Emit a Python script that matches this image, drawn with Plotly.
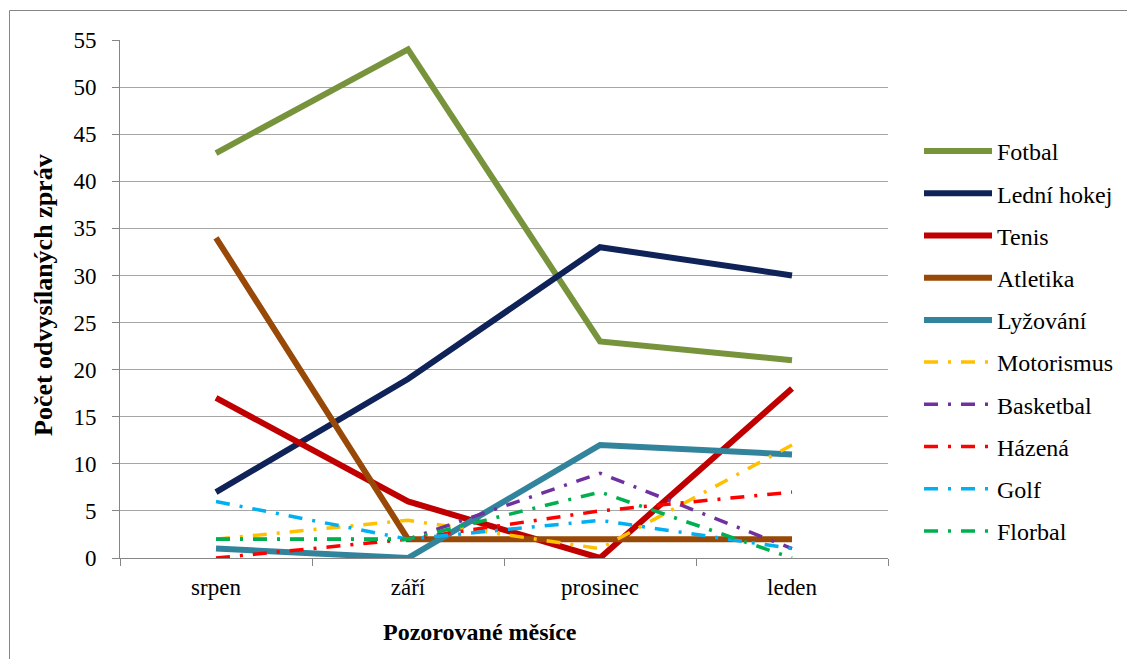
import plotly.graph_objects as go

months = ["srpen", "září", "prosinec", "leden"]
fotbal = [43, 54, 23, 21]
ledni_hokej = [7, 19, 33, 30]
tenis = [17, 6, 0, 18]
atletika = [34, 2, 2, 2]
lyzovani = [1, 0, 12, 11]
motorismus = [2, 4, 1, 12]
basketbal = [2, 2, 9, 1]
hazena = [0, 2, 5, 7]
golf = [6, 2, 4, 1]
florbal = [2, 2, 7, 0]

series = [
    ("Fotbal", fotbal, "#77933C", "solid"),
    ("Lední hokej", ledni_hokej, "#0F2358", "solid"),
    ("Tenis", tenis, "#C00000", "solid"),
    ("Atletika", atletika, "#984807", "solid"),
    ("Lyžování", lyzovani, "#31849B", "solid"),
    ("Motorismus", motorismus, "#FFC000", "dash"),
    ("Basketbal", basketbal, "#7030A0", "dash"),
    ("Házená", hazena, "#FF0000", "dash"),
    ("Golf", golf, "#00B0F0", "dash"),
    ("Florbal", florbal, "#00B050", "dash"),
]

FONT = "Liberation Serif, Times New Roman, serif"

fig = go.Figure()
for i, (name, vals, color, style) in enumerate(series):
    if style == "solid":
        line = dict(color=color, width=6)
    else:
        line = dict(color=color, width=3.5, dash="14px,10px,3px,10px")
    fig.add_trace(go.Scatter(x=months, y=vals, name=name, mode="lines",
                             line=line, legendgroup=str(i)))

W, H = 1127, 659
L, R, T, B = 120, 239, 40, 101
pw, ph = W - L - R, H - T - B

fig.update_layout(
    width=W, height=H,
    margin=dict(l=L, r=R, t=T, b=B, autoexpand=False),
    paper_bgcolor="white", plot_bgcolor="white",
    font=dict(family=FONT, size=23, color="black"),
    showlegend=True,
    legend=dict(x=(919 - L) / pw, y=1 - (129 - T) / ph, xanchor="left", yanchor="top",
                font=dict(family=FONT, size=24, color="black"),
                tracegroupgap=8, itemwidth=68, bgcolor="rgba(0,0,0,0)"),
    xaxis=dict(type="category", showgrid=False, showline=True, linecolor="#868686",
               linewidth=1, ticks="outside", tickson="boundaries", ticklen=7,
               tickcolor="#868686", tickfont=dict(family=FONT, size=23),
               ticklabelstandoff=8, range=[-0.5, 3.5]),
    yaxis=dict(range=[0, 55], dtick=5, showgrid=True, gridcolor="#A6A6A6", gridwidth=1,
               showline=True, linecolor="#868686", linewidth=1, ticks="outside",
               ticklen=7, tickcolor="#868686", tickfont=dict(family=FONT, size=23),
               ticklabelstandoff=11, zeroline=False),
    annotations=[
        dict(text="<b>Pozorované měsíce</b>", xref="paper", yref="paper",
             x=(480 - L) / pw, y=-(632 - (T + ph)) / ph, showarrow=False,
             xanchor="center", yanchor="middle",
             font=dict(family=FONT, size=24, color="black")),
        dict(text="<b>Počet odvysílaných zpráv</b>", xref="paper", yref="paper",
             x=(43 - L) / pw, y=1 - (295 - T) / ph, showarrow=False, textangle=-90,
             xanchor="center", yanchor="middle",
             font=dict(family=FONT, size=26, color="black")),
    ],
    shapes=[dict(type="rect", xref="paper", yref="paper",
                 x0=(9.5 - L) / pw, x1=(1140 - L) / pw,
                 y0=-(680 - (T + ph)) / ph, y1=1 + (T - 10.5) / ph,
                 line=dict(color="#868686", width=1), layer="below")],
)

fig.write_html("out.html")
